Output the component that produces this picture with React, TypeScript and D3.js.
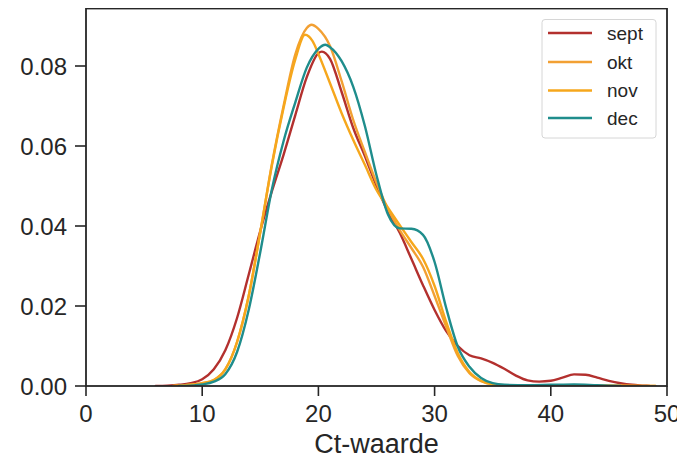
import React from "react";
import * as d3 from "d3";

// ---- data ----
const seriesNames = ["sept", "okt", "nov", "dec"];
const seriesColors = ["#b3302e", "#f2a033", "#f6a71c", "#1f8d8c"];

const septX = [6, 7, 8, 9, 10, 11, 12, 13, 14, 15, 16, 17, 18, 19, 20, 20.3, 21, 22, 23, 24, 25, 26, 27, 28, 29, 30, 31, 32, 33, 34, 35, 36, 37, 38, 39, 40, 41, 42, 43, 44, 45, 46, 47, 48, 48.5];
const septY = [0, 0.0001, 0.0003, 0.0007, 0.0017, 0.0042, 0.009, 0.017, 0.0278, 0.0388, 0.0487, 0.0578, 0.0676, 0.0772, 0.0832, 0.0836, 0.0818, 0.0735, 0.0645, 0.0575, 0.05, 0.0435, 0.0383, 0.0318, 0.0252, 0.019, 0.0137, 0.01, 0.0077, 0.0069, 0.0058, 0.0043, 0.0026, 0.0014, 0.0011, 0.0013, 0.0021, 0.0029, 0.0028, 0.0021, 0.0013, 0.0007, 0.0003, 0.0001, 0];

const oktX = [7.5, 8, 9, 10, 11, 12, 13, 14, 15, 16, 17, 18, 19, 19.4, 20, 21, 22, 23, 24, 25, 26, 27, 28, 29, 30, 31, 32, 33, 34, 35, 36, 38, 40, 44, 48, 49];
const oktY = [0, 0.0001, 0.0003, 0.0007, 0.0015, 0.0042, 0.011, 0.0225, 0.0385, 0.0555, 0.07, 0.0828, 0.0895, 0.0903, 0.0893, 0.085, 0.0762, 0.0665, 0.0585, 0.0508, 0.0442, 0.039, 0.0345, 0.0298, 0.0225, 0.0148, 0.0075, 0.0032, 0.0012, 0.0004, 0.0002, 0.0001, 0.0001, 0.0001, 0, 0];

const novX = [7.5, 8, 9, 10, 11, 12, 13, 14, 15, 16, 17, 18, 18.85, 19.5, 20, 21, 22, 23, 24, 25, 26, 27, 28, 29, 30, 31, 32, 33, 34, 35, 36, 40, 45, 49];
const novY = [0, 0.0001, 0.0003, 0.0007, 0.0015, 0.0042, 0.011, 0.0225, 0.0385, 0.0552, 0.0695, 0.0815, 0.0878, 0.0862, 0.083, 0.0757, 0.0682, 0.0615, 0.0553, 0.049, 0.0445, 0.0402, 0.036, 0.0318, 0.025, 0.016, 0.0082, 0.0035, 0.0013, 0.0004, 0.0002, 0.0001, 0.0001, 0];

const decX = [8, 9, 10, 11, 12, 13, 14, 15, 16, 17, 18, 19, 20, 20.6, 21, 22, 23, 24, 25, 26, 27, 28, 29, 30, 31, 32, 33, 34, 35, 36, 38, 40, 42, 44, 46];
const decY = [0, 0.0001, 0.0004, 0.0011, 0.003, 0.0085, 0.019, 0.0335, 0.0492, 0.0612, 0.0708, 0.0796, 0.0843, 0.0853, 0.0847, 0.0812, 0.0748, 0.065, 0.0527, 0.0428, 0.0394, 0.0393, 0.0378, 0.031, 0.0195, 0.0098, 0.0048, 0.002, 0.0007, 0.0003, 0.0002, 0.0003, 0.0004, 0.0002, 0];

const xTicks = [0, 10, 20, 30, 40, 50];
const yTicks = [0, 0.02, 0.04, 0.06, 0.08];
const xLabel = "Ct-waarde";

const allX = [septX, oktX, novX, decX];
const allY = [septY, oktY, novY, decY];

const W = 685;
const H = 464;
const FONT = "'Liberation Sans', Arial, Helvetica, sans-serif";
const AXIS = "#262626";

export default function App() {
  const left = 86;
  const right = 667;
  const top = 8.5;
  const bottom = 386;

  const x = d3.scaleLinear().domain([0, 50]).range([left, right]);
  const y = d3.scaleLinear().domain([0, 0.094375]).range([bottom, top]);

  const line = d3
    .line<[number, number]>()
    .x((d) => x(d[0]))
    .y((d) => y(d[1]))
    .curve(d3.curveMonotoneX);

  const legendX = 542;
  const legendY = 19.5;
  const legendW = 114;
  const legendH = 118.5;
  const rowY = [33, 62, 90.5, 118];

  return (
    <div style={{ margin: "-8px", width: W, height: H }}>
      <svg width={W} height={H} style={{ display: "block", background: "#fff" }}>
        <defs>
          <clipPath id="plotclip">
            <rect x={left} y={top} width={right - left} height={bottom - top} />
          </clipPath>
        </defs>
        {/* curves */}
        <g clipPath="url(#plotclip)">
          {allX.map((xs, i) => {
            const pts: [number, number][] = xs.map((v, j) => [v, allY[i][j]]);
            return (
              <path
                key={seriesNames[i]}
                d={line(pts) || ""}
                fill="none"
                stroke={seriesColors[i]}
                strokeWidth={2.4}
                strokeLinejoin="round"
                strokeLinecap="round"
              />
            );
          })}
        </g>

        {/* frame */}
        <rect
          x={left}
          y={top}
          width={right - left}
          height={bottom - top}
          fill="none"
          stroke={AXIS}
          strokeWidth={1.8}
        />

        {/* x ticks */}
        {xTicks.map((t) => (
          <g key={"x" + t}>
            <line x1={x(t)} x2={x(t)} y1={bottom} y2={bottom + 10} stroke={AXIS} strokeWidth={1.6} />
            <text
              x={x(t)}
              y={bottom + 36}
              textAnchor="middle"
              fontFamily={FONT}
              fontSize={24}
              fill={AXIS}
            >
              {t}
            </text>
          </g>
        ))}

        {/* y ticks */}
        {yTicks.map((t) => (
          <g key={"y" + t}>
            <line x1={left - 11} x2={left} y1={y(t)} y2={y(t)} stroke={AXIS} strokeWidth={1.6} />
            <text
              x={left - 19}
              y={y(t) + 8.5}
              textAnchor="end"
              fontFamily={FONT}
              fontSize={24}
              fill={AXIS}
            >
              {t.toFixed(2)}
            </text>
          </g>
        ))}

        {/* x label */}
        <text
          x={(left + right) / 2}
          y={453}
          textAnchor="middle"
          fontFamily={FONT}
          fontSize={27}
          fill={AXIS}
        >
          {xLabel}
        </text>

        {/* legend */}
        <rect
          x={legendX}
          y={legendY}
          width={legendW}
          height={legendH}
          rx={3}
          fill="#fff"
          fillOpacity={0.85}
          stroke="#d6d6d6"
          strokeWidth={1}
        />
        {seriesNames.map((name, i) => (
          <g key={"leg" + name}>
            <line
              x1={548}
              x2={592}
              y1={rowY[i]}
              y2={rowY[i]}
              stroke={seriesColors[i]}
              strokeWidth={2.4}
            />
            <text
              x={607}
              y={rowY[i] + 6.5}
              fontFamily={FONT}
              fontSize={19}
              fill={AXIS}
            >
              {name}
            </text>
          </g>
        ))}
      </svg>
    </div>
  );
}
